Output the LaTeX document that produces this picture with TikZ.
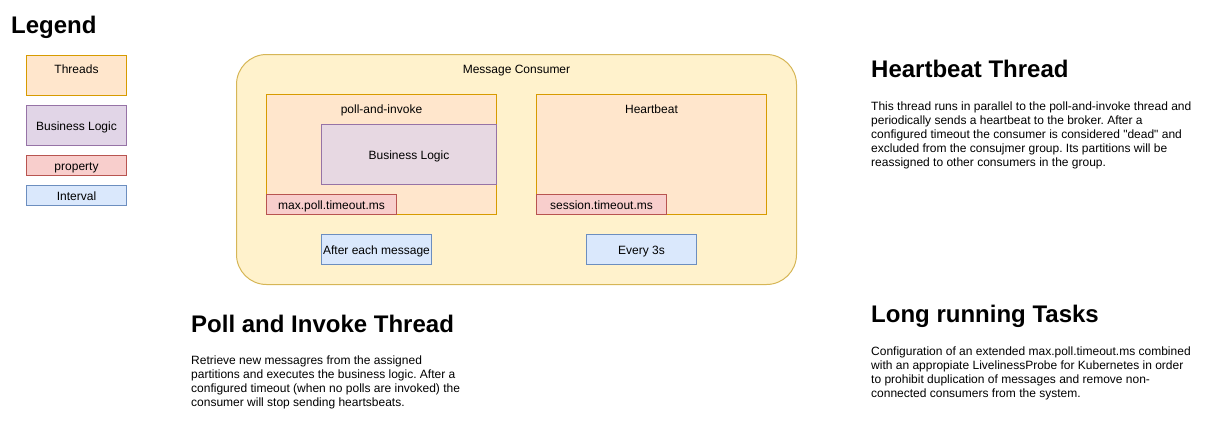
\documentclass[tikz,border=0pt]{standalone}
\usepackage{fontspec}
\setmainfont{Liberation Sans}
\usetikzlibrary{positioning}
\frenchspacing
\definecolor{thrfill}{HTML}{FFE6CC}
\definecolor{thrline}{HTML}{D79B00}
\definecolor{logfill}{HTML}{E1D5E7}
\definecolor{logline}{HTML}{9673A6}
\definecolor{propfill}{HTML}{F8CECC}
\definecolor{propline}{HTML}{B85450}
\definecolor{intfill}{HTML}{DAE8FC}
\definecolor{intline}{HTML}{6C8EBF}
\definecolor{consfill}{HTML}{FFF2CC}
\definecolor{consline}{HTML}{D6B656}
\tikzset{
  box/.style={draw, line width=1pt, inner sep=0pt, anchor=north west,
    font=\fontsize{12}{14}\selectfont, text height=10pt, text depth=0pt},
  toptext/.style={font=\fontsize{12}{14}\selectfont, text height=10pt, text depth=0pt, anchor=center},
  thread/.style={box, fill=thrfill, draw=thrline},
  logic/.style={box, fill=logfill, draw=logline},
  prop/.style={box, fill=propfill, draw=propline},
  interval/.style={box, fill=intfill, draw=intline},
  heading/.style={anchor=base west, inner sep=0pt, font=\fontsize{24}{28}\selectfont\bfseries},
  blurb/.style={anchor=north west, align=left, inner sep=0pt, font=\fontsize{12}{14}\selectfont}
}

\begin{document}
\begin{tikzpicture}[x=1pt,y=-1pt]
  \useasboundingbox (0,0) rectangle (1216,424);
  \node[heading] (legend) at (11,33.5) {Legend};
  \node[thread, minimum width=100pt, minimum height=40pt,
    label={[toptext, yshift=-13pt]north:Threads}] (legthread) at (26,55) {};
  \node[logic, minimum width=100pt, minimum height=40pt] (leglogic) at (26,105) {Business Logic};
  \node[prop, minimum width=100pt, minimum height=20pt] (legprop) at (26,155) {property};
  \node[interval, minimum width=100pt, minimum height=20pt] (leginterval) at (26,185) {Interval};

  \node[box, fill=consfill, draw=consline, rounded corners=30pt, minimum width=560pt, minimum height=230pt,
    label={[toptext, yshift=-14pt]north:Message Consumer}] (consumer) at (236,54) {};
  \node[thread, minimum width=230pt, minimum height=120pt,
    label={[toptext, yshift=-14pt]north:poll-and-invoke}] (pollinvoke) at (266,94) {};
  \node[thread, minimum width=230pt, minimum height=120pt,
    label={[toptext, yshift=-14pt]north:Heartbeat}] (heartbeat) at (536,94) {};
  \node[logic, fill=logfill!80!thrfill, minimum width=175pt, minimum height=60pt] (logic) at (321,124) {Business Logic};
  \node[prop, minimum width=130pt, minimum height=20pt] (maxpoll) at (266,194) {max.poll.timeout.ms};
  \node[prop, minimum width=130pt, minimum height=20pt] (session) at (536,194) {session.timeout.ms};
  \node[interval, minimum width=110pt, minimum height=30pt] (eachmsg) at (321,234) {After each message};
  \node[interval, minimum width=110pt, minimum height=30pt] (every) at (586,234) {Every 3s};

  \node[heading] (hbtitle) at (871,77.5) {Heartbeat Thread};
  \node[blurb] (hbtext) at (871,101.3) {This thread runs in parallel to the poll-and-invoke thread and\\
    periodically sends a heartbeat to the broker. After a\\
    configured timeout the consumer is considered \textquotedbl dead\textquotedbl{} and\\
    excluded from the consujmer group. Its partitions will be\\
    reassigned to other consumers in the group.};
  \node[heading] (pititle) at (191,332.5) {Poll and Invoke Thread};
  \node[blurb] (pitext) at (191,355.3) {Retrieve new messagres from the assigned\\
    partitions and executes the business logic. After a\\
    configured timeout (when no polls are invoked) the\\
    consumer will stop sending heartsbeats.};
  \node[heading] (lrtitle) at (871,322.5) {Long running Tasks};
  \node[blurb] (lrtext) at (871,346.3) {Configuration of an extended max.poll.timeout.ms combined\\
    with an appropiate LivelinessProbe for Kubernetes in order\\
    to prohibit duplication of messages and remove non-\\
    connected consumers from the system.};
\end{tikzpicture}
\end{document}
